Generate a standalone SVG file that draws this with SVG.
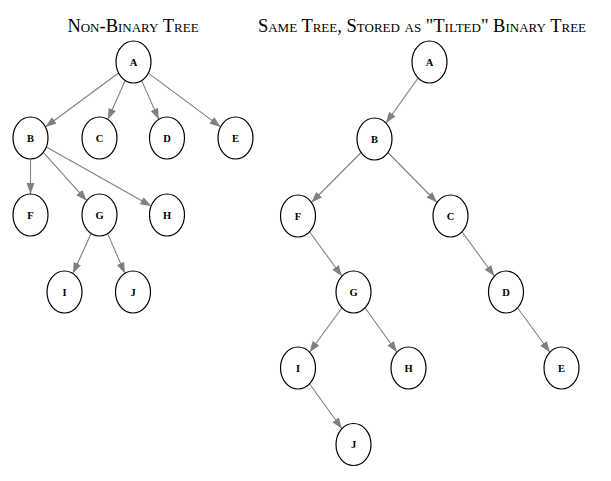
<svg xmlns="http://www.w3.org/2000/svg" width="611" height="481" viewBox="0 0 611 481">
<style>
.title{font-family:"Liberation Serif","DejaVu Serif",serif;font-size:18.5px;font-variant:small-caps;text-anchor:middle;fill:#000}
.node ellipse{fill:#fff;stroke:#000;stroke-width:1.2}
.node text{font-family:"Liberation Serif","DejaVu Serif",serif;font-size:10.5px;font-weight:bold;text-anchor:middle;fill:#000}
.edges line{stroke:#808080;stroke-width:1.1;marker-end:url(#arr)}
</style>
<defs>
<marker id="arr" markerUnits="userSpaceOnUse" markerWidth="12" markerHeight="9" refX="11" refY="4" orient="auto">
<path d="M0,0 L11,4 L0,8 z" fill="#808080"/>
</marker>
</defs>
<rect width="611" height="481" fill="#fff"/>
<text class="title" x="133" y="32">Non-Binary Tree</text>
<text class="title" x="422" y="32">Same Tree, Stored as "Tilted" Binary Tree</text>
<g class="edges" id="connectors">
<line x1="118.6" y1="73.0" x2="45.4" y2="127.0"/>
<line x1="125.2" y1="80.5" x2="107.8" y2="119.5"/>
<line x1="141.7" y1="80.6" x2="158.8" y2="119.4"/>
<line x1="148.4" y1="73.1" x2="220.6" y2="126.9"/>
<line x1="30.5" y1="159" x2="30.5" y2="194"/>
<line x1="43.3" y1="152.3" x2="86.7" y2="200.7"/>
<line x1="46.3" y1="146.9" x2="151.2" y2="206.1"/>
<line x1="91.1" y1="233.4" x2="72.9" y2="273.6"/>
<line x1="107.6" y1="233.6" x2="124.9" y2="273.4"/>
<line x1="418.1" y1="78.0" x2="385.9" y2="123.1"/>
<line x1="361.1" y1="152.5" x2="311.4" y2="202.5"/>
<line x1="387.9" y1="152.5" x2="437.1" y2="202.5"/>
<line x1="309.5" y1="231.8" x2="342.0" y2="276.2"/>
<line x1="462.0" y1="231.8" x2="494.5" y2="276.2"/>
<line x1="342.0" y1="307.8" x2="309.5" y2="352.2"/>
<line x1="365.0" y1="307.8" x2="397.0" y2="352.2"/>
<line x1="517.5" y1="307.8" x2="550.0" y2="352.2"/>
<line x1="309.5" y1="383.8" x2="342.0" y2="428.7"/>
</g>
<g class="node" id="L_A"><ellipse cx="133.5" cy="62" rx="17.5" ry="21"/><text x="133.5" y="65.5">A</text></g>
<g class="node" id="L_B"><ellipse cx="30.5" cy="138" rx="17.5" ry="21"/><text x="30.5" y="141.5">B</text></g>
<g class="node" id="L_C"><ellipse cx="99.5" cy="138" rx="17.5" ry="21"/><text x="99.5" y="141.5">C</text></g>
<g class="node" id="L_D"><ellipse cx="167" cy="138" rx="17.5" ry="21"/><text x="167" y="141.5">D</text></g>
<g class="node" id="L_E"><ellipse cx="235.5" cy="138" rx="17.5" ry="21"/><text x="235.5" y="141.5">E</text></g>
<g class="node" id="L_F"><ellipse cx="30.5" cy="215" rx="17.5" ry="21"/><text x="30.5" y="218.5">F</text></g>
<g class="node" id="L_G"><ellipse cx="99.5" cy="215" rx="17.5" ry="21"/><text x="99.5" y="218.5">G</text></g>
<g class="node" id="L_H"><ellipse cx="167" cy="215" rx="17.5" ry="21"/><text x="167" y="218.5">H</text></g>
<g class="node" id="L_I"><ellipse cx="64.5" cy="292" rx="17.5" ry="21"/><text x="64.5" y="295.5">I</text></g>
<g class="node" id="L_J"><ellipse cx="133" cy="292" rx="17.5" ry="21"/><text x="133" y="295.5">J</text></g>
<g class="node" id="R_A"><ellipse cx="429.5" cy="62" rx="17.5" ry="21"/><text x="429.5" y="65.5">A</text></g>
<g class="node" id="R_B"><ellipse cx="374.5" cy="139" rx="17.5" ry="21"/><text x="374.5" y="142.5">B</text></g>
<g class="node" id="R_F"><ellipse cx="298" cy="216" rx="17.5" ry="21"/><text x="298" y="219.5">F</text></g>
<g class="node" id="R_C"><ellipse cx="450.5" cy="216" rx="17.5" ry="21"/><text x="450.5" y="219.5">C</text></g>
<g class="node" id="R_G"><ellipse cx="353.5" cy="292" rx="17.5" ry="21"/><text x="353.5" y="295.5">G</text></g>
<g class="node" id="R_D"><ellipse cx="506" cy="292" rx="17.5" ry="21"/><text x="506" y="295.5">D</text></g>
<g class="node" id="R_I"><ellipse cx="298" cy="368" rx="17.5" ry="21"/><text x="298" y="371.5">I</text></g>
<g class="node" id="R_H"><ellipse cx="408.5" cy="368" rx="17.5" ry="21"/><text x="408.5" y="371.5">H</text></g>
<g class="node" id="R_E"><ellipse cx="561.5" cy="368" rx="17.5" ry="21"/><text x="561.5" y="371.5">E</text></g>
<g class="node" id="R_J"><ellipse cx="353.5" cy="444.5" rx="17.5" ry="21"/><text x="353.5" y="448">J</text></g>
</svg>
